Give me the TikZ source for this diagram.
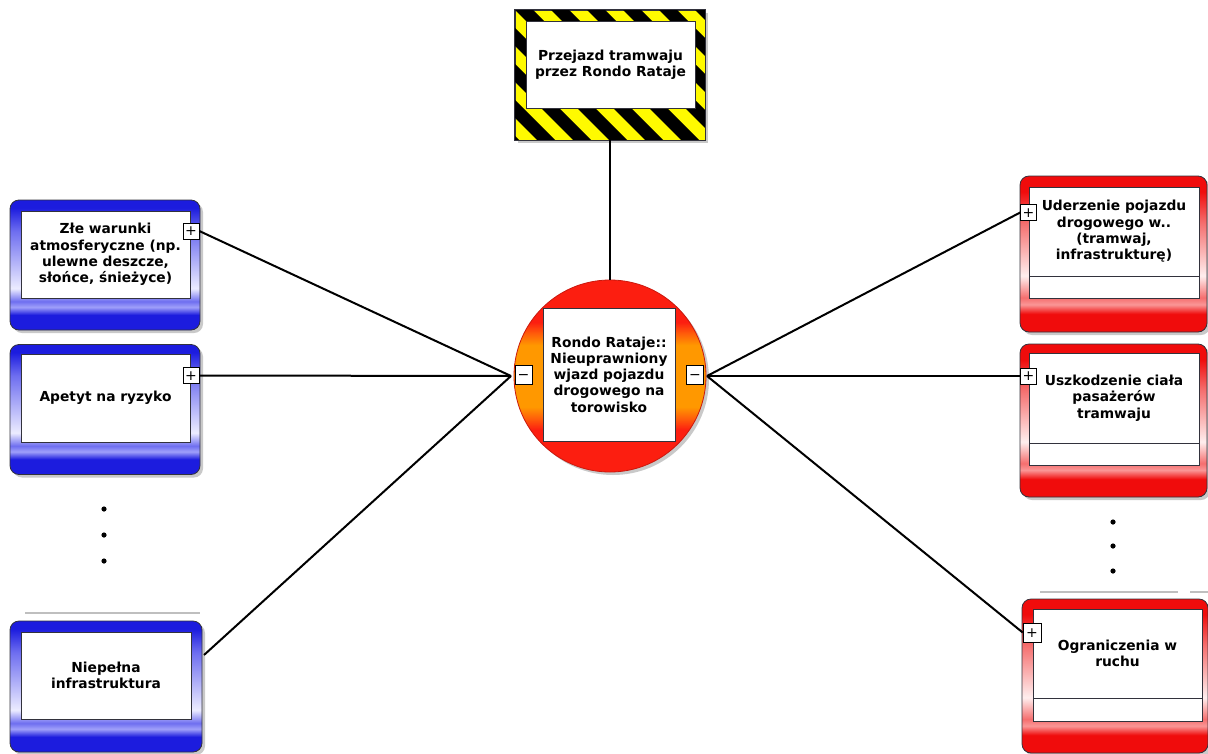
\documentclass[tikz,border=0pt]{standalone}
\usepackage{fontspec}
\setmainfont{DejaVu Sans}
\usetikzlibrary{positioning,shadows}
\definecolor{CauseBlue}{RGB}{28,28,222}
\definecolor{CauseMid}{RGB}{110,110,240}
\definecolor{CauseLight}{RGB}{160,160,250}
\definecolor{CausePale}{RGB}{236,236,255}
\definecolor{ConseqRed}{RGB}{240,12,12}
\definecolor{ConseqMid}{RGB}{245,110,110}
\definecolor{ConseqLight}{RGB}{250,150,150}
\definecolor{ConseqPale}{RGB}{255,238,238}
\definecolor{EventRed}{RGB}{252,30,16}
\definecolor{EventDeep}{RGB}{255,95,10}
\definecolor{EventOrange}{RGB}{255,152,0}
\definecolor{HazYellow}{RGB}{255,250,0}
\definecolor{FrameGray}{RGB}{50,50,60}
\pgfdeclareverticalshading{causeshade}{100bp}{%
  color(0bp)=(CauseBlue); color(30.8bp)=(CauseBlue);
  color(33.8bp)=(CauseLight); color(36bp)=(CauseMid);
  color(41bp)=(CausePale); color(63bp)=(CauseMid);
  color(72bp)=(CauseBlue); color(100bp)=(CauseBlue)}
\pgfdeclareverticalshading{conseqshade}{100bp}{%
  color(0bp)=(ConseqRed); color(30.8bp)=(ConseqRed);
  color(33.8bp)=(ConseqLight); color(36bp)=(ConseqMid);
  color(43bp)=(ConseqPale); color(60bp)=(ConseqMid);
  color(70bp)=(ConseqRed); color(100bp)=(ConseqRed)}
\pgfdeclareverticalshading{eventshade}{100bp}{%
  color(0bp)=(EventRed); color(36bp)=(EventRed);
  color(39bp)=(EventDeep); color(42bp)=(EventOrange);
  color(58bp)=(EventOrange); color(61bp)=(EventDeep);
  color(64bp)=(EventRed); color(100bp)=(EventRed)}
\tikzset{
  boxframe/.style={draw=FrameGray, line width=.8pt,
    drop shadow={shadow xshift=3pt,shadow yshift=-3pt,fill=black!30,opacity=.7}},
  causebox/.style={boxframe, rounded corners=9pt, shading=causeshade,
    minimum width=190, minimum height=130},
  conseqbox/.style={boxframe, rounded corners=9pt, shading=conseqshade,
    minimum width=187, minimum height=155},
  textbox/.style={draw=FrameGray, line width=.6pt, fill=white, inner sep=0pt,
    align=center, font=\fontsize{13.8}{16.3}\selectfont\bfseries},
  pmbox/.style={draw=black, line width=.6pt, fill=white, inner sep=0pt,
    text height=9.6pt, text depth=0pt,
    minimum width=16, minimum height=16, font=\fontsize{14}{14}\selectfont},
  link/.style={line width=2pt},
  sepline/.style={black!25, line width=1.5pt}
}
\begin{document}
\begin{tikzpicture}[x=1pt,y=-1pt]
\useasboundingbox (0,0) rectangle (1208,753);

% hazard
\node[boxframe, fill=HazYellow, minimum width=190, minimum height=130] (haz) at (610,75) {};
\begin{scope}
  \clip (haz.north west) rectangle (haz.south east);
  \foreach \s in {-180,-144,...,200}
    \fill[black] (515+\s,10) -- (533+\s,10) -- (663+\s,140) -- (645+\s,140) -- cycle;
\end{scope}
\draw[draw=FrameGray, line width=.8pt] (haz.north west) rectangle (haz.south east);
\node[textbox, minimum width=169, minimum height=87] (hazt) at (610.5,64.5)
  {Przejazd tramwaju\\przez Rondo Rataje};

% top event
\node[boxframe, circle, shading=eventshade, draw=EventRed!80!black, minimum size=192] (ev) at (610,376) {};
\node[textbox, minimum width=132, minimum height=133] (evt) at (609,374.5)
  {Rondo Rataje::\\Nieuprawniony\\wjazd pojazdu\\drogowego na\\torowisko};
\node[pmbox, minimum width=17, minimum height=19] (evl) at (523.5,374.5) {−};
\node[pmbox, minimum width=17, minimum height=19] (evr) at (695,374.5) {−};
\coordinate (lefttip) at (511,376);
\coordinate (righttip) at (707,376);
\draw[link] (haz.south) -- (ev.north);

% threats
\node[causebox] (c1) at (105,265) {};
\node[textbox, minimum width=169, minimum height=87] (c1t) at (105.5,254.5)
  {Złe warunki\\atmosferyczne (np.\\ulewne deszcze,\\słońce, śnieżyce)};
\node[pmbox] (c1p) at (191,231) {+};

\node[causebox] (c2) at (105,409.5) {};
\node[textbox, minimum width=169, minimum height=88] (c2t) at (105.5,398)
  {Apetyt na ryzyko};
\node[pmbox] (c2p) at (191,375.5) {+};

\foreach \y in {509,535,561}
  \fill (104,\y) circle (2.6pt);
\draw[sepline] (25,613) -- (200,613);

\node[causebox, minimum width=192, minimum height=131] (c3) at (106,686.5) {};
\node[textbox, minimum width=170, minimum height=87] (c3t) at (106,675.5)
  {Niepełna\\infrastruktura};
\coordinate (c3end) at (204,655);

% consequences
\node[conseqbox, minimum height=156] (r1) at (1113.5,254) {};
\node[textbox, minimum width=170, minimum height=89] (r1t) at (1114,231.5)
  {Uderzenie pojazdu\\drogowego w..\\(tramwaj,\\infrastrukturę)};
\node[textbox, minimum width=170, minimum height=22, below=0pt of r1t] (r1b) {};
\node[pmbox] (r1p) at (1028.5,212.5) {+};

\node[conseqbox, minimum height=153] (r2) at (1113.5,420.5) {};
\node[textbox, minimum width=170, minimum height=90] (r2t) at (1114,398)
  {Uszkodzenie ciała\\pasażerów\\tramwaju};
\node[textbox, minimum width=170, minimum height=22, below=0pt of r2t] (r2b) {};
\node[pmbox] (r2p) at (1028.5,376) {+};

\foreach \y in {522,546,571}
  \fill (1113,\y) circle (2.6pt);
\draw[sepline] (1040,592) -- (1178,592);
\draw[sepline] (1190,592) -- (1208,592);

\node[conseqbox, minimum width=186, minimum height=154] (r3) at (1115,676) {};
\node[textbox, minimum width=169, minimum height=89] (r3t) at (1117.5,653.5)
  {Ograniczenia w\\ruchu};
\node[textbox, minimum width=169, minimum height=23, below=0pt of r3t] (r3b) {};
\node[pmbox, minimum width=18, minimum height=19] (r3p) at (1032,632.5) {+};

% connectors
\draw[link] (c1p.east) -- (lefttip);
\draw[link] (c2p.east) -- (lefttip);
\draw[link] (c3end) -- (lefttip);
\draw[link] (righttip) -- (r1p.west);
\draw[link] (righttip) -- (r2p.west);
\draw[link] (righttip) -- (r3p.west);
\end{tikzpicture}
\end{document}
